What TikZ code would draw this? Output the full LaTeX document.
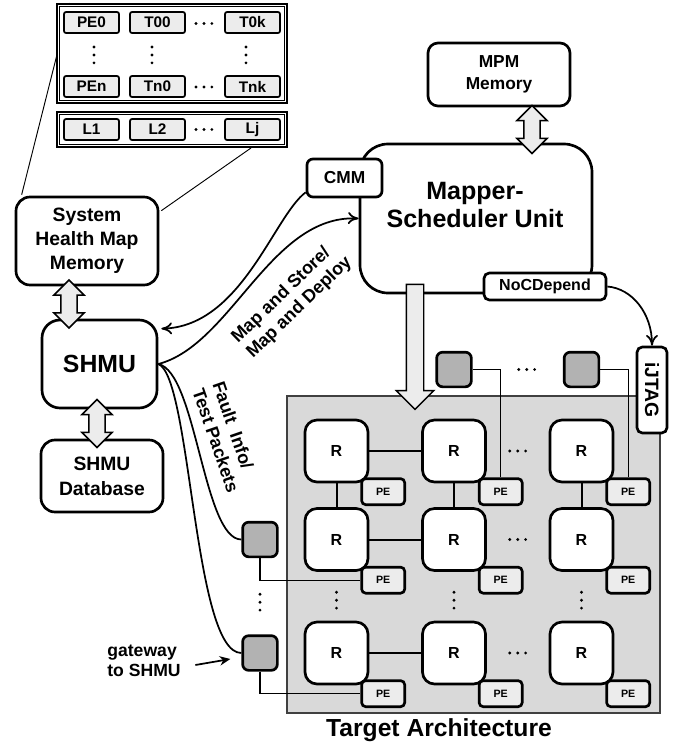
\documentclass[tikz,border=0pt]{standalone}
\usepackage{fontspec}
\setmainfont{Liberation Sans}
\usetikzlibrary{shapes.arrows,arrows.meta,backgrounds,calc}

\begin{document}
\begin{tikzpicture}[x=0.75pt, y=-0.75pt,
  box/.style={draw, line width=2pt, fill=white, align=center, inner sep=0pt},
  tblframe/.style={draw, line width=1.5pt, fill=white, inner sep=0pt},
  tcell/.style={draw, line width=1.3pt, rounded corners=1.5pt, fill=gray!15, minimum width=41.25pt, minimum height=15.75pt, inner sep=0pt, font=\fontsize{11.5}{12}\selectfont\bfseries},
  rbox/.style={box, rounded corners=9pt, minimum width=47.25pt, minimum height=46.5pt, font=\fontsize{12}{14}\selectfont\bfseries},
  pebox/.style={box, rounded corners=3pt, fill=gray!15, minimum width=32.25pt, minimum height=19.5pt, font=\fontsize{8}{9}\selectfont\bfseries},
  gwbox/.style={draw, line width=2pt, rounded corners=4.5pt, fill=gray!60, minimum size=26pt, inner sep=0pt},
  nlink/.style={line width=1.5pt},
  thinwire/.style={line width=1pt},
  flowarrow/.style={line width=1.3pt, -{Computer Modern Rightarrow[length=8pt,width=9pt]}},
  fatarrow/.style={draw, line width=1.1pt, fill=gray!15, inner ysep=0pt, minimum width=0pt},
  hdots/.style={line width=2.4pt, line cap=round, dash pattern=on 0pt off 5.95pt},
  rotlabel/.style={font=\fontsize{13.5}{16}\selectfont\bfseries, align=left, inner sep=0pt},
]
\useasboundingbox (0,0) rectangle (683,743);

% health map tables
\node[tblframe, minimum width=172.5pt, minimum height=74.25pt] (tbl) at (172,53.5) {};
\node[tblframe, minimum width=172.5pt, minimum height=26.25pt] (lst) at (172,129.5) {};
\foreach \f in {tbl,lst}
  \draw[line width=0.6pt] ([shift={(3.5,3.5)}]\f.north west) rectangle ([shift={(-3.5,-3.5)}]\f.south east);
\foreach \n/\t/\x/\y in {pe0/PE0/91.5/22.5, t00/T00/157.5/22.5, t0k/T0k/252.5/22.5,
    pen/PEn/91.5/86.5, tn0/Tn0/157.5/86.5, tnk/Tnk/252.5/86.5,
    l1/L1/91.5/129.5, l2/L2/157.5/129.5, lj/Lj/252.5/129.5}
  \node[tcell] (\n) at (\x,\y) {\t};
\foreach \y in {23.5,87,129.5}
  \draw[hdots] (196,\y) -- (212,\y);
\foreach \x in {94,152,246}
  \draw[hdots] (\x,47) -- (\x,63);

% SHMU side
\node[box, rounded corners=10.5pt, minimum width=106.5pt, minimum height=66pt, font=\fontsize{14.5}{18}\selectfont\bfseries] (shm) at (87,241) {System\\Health Map\\Memory};
\node[box, rounded corners=13.5pt, minimum width=86.25pt, minimum height=66pt, font=\fontsize{18.6}{22}\selectfont\bfseries] (shmu) at (99.5,364) {SHMU};
\node[box, rounded corners=10.5pt, minimum width=91.5pt, minimum height=54pt, font=\fontsize{14.5}{18.75}\selectfont\bfseries] (db) at (102,476) {SHMU\\Database};

\begin{scope}[on background layer]
  \draw[line width=0.7pt] ([shift={(7,-1)}]shm.north west) -- ([shift={(14,0)}]tbl.north west);
  \draw[line width=0.7pt] ([shift={(2,15)}]shm.north east) -- ([shift={(-37,0)}]lst.south east);
\end{scope}

% mapper side
\node[box, rounded corners=21pt, minimum width=174pt, minimum height=111.75pt] (msu) at (476,218.5) {};
\node[font=\fontsize{18.8}{21}\selectfont\bfseries, align=center] (msutxt) at (475,205) {Mapper-\\Scheduler Unit};
\node[box, rounded corners=4.5pt, minimum width=56.25pt, minimum height=28.5pt, font=\fontsize{13}{15}\selectfont\bfseries] (cmm) at (344.5,178) {CMM};
\node[box, rounded corners=7.5pt, minimum width=106.5pt, minimum height=47.25pt, font=\fontsize{13}{16.5}\selectfont\bfseries] (mpm) at (499,74.5) {MPM\\Memory};
\node[box, rounded corners=4pt, minimum width=91.5pt, minimum height=20.25pt, font=\fontsize{12}{14}\selectfont\bfseries] (noc) at (545,286.5) {NoCDepend};

% wide arrows
\foreach \x/\y [count=\k] in {69/304, 97/423.5, 532/129.5}
  \node[fatarrow, double arrow, shape border rotate=90, minimum height=36pt, inner xsep=5.6pt, double arrow head extend=5.25pt] (dbl\k) at (\x,\y) {};

% target architecture
\node[draw=black!75, line width=1.2pt, fill=gray!30, minimum width=279.75pt, minimum height=237.75pt, inner sep=0pt] (tgt) at (473.5,554.5) {};
\node[font=\fontsize{18.5}{20}\selectfont\bfseries] (tgtname) at (439,730) {Target Architecture};
\node[fatarrow, single arrow, shape border rotate=270, minimum height=93.75pt, inner xsep=6pt, single arrow head extend=7.5pt] (down) at (415,342.5) {};

\foreach \j/\y in {1/451,2/539.5,3/653}
  \foreach \i/\x in {1/336.5,2/454,3/581.5}
    \node[rbox] (r\j\i) at (\x,\y) {R};
\foreach \j in {1,2,3}
  \draw[nlink] (r\j1) -- (r\j2);
\foreach \i in {1,2,3}
  \draw[nlink] (r1\i) -- (r2\i);

% gateways
\foreach \i in {2,3} {
  \node[gwbox] (gt\i) at (r1\i |- 0,369.5) {};
}
\foreach \j in {2,3} {
  \node[gwbox] (gl\j) at (r\j1 -| 260,0) {};
}

\foreach \j in {1,2,3}
  \foreach \i in {1,2,3}
    \node[pebox, anchor=north west] (pe\j\i) at ([shift={(-9,-6)}]r\j\i.south east) {PE};
\foreach \i in {2,3}
  \draw[thinwire] (gt\i.east) -| (pe1\i.north);
\foreach \j in {2,3}
  \draw[thinwire] (gl\j.south) |- (pe\j1.west);

\foreach \j in {1,2,3}
  \draw[hdots] ($(r\j2)!0.5!(r\j3)+(-8,0)$) -- +(16,0);
\foreach \i in {1,2,3}
  \draw[hdots] ($(r2\i)!0.5!(r3\i)+(0,-4)$) -- +(0,16);
\draw[hdots] ($(gt2)!0.5!(gt3)+(1,0)$) -- +(16,0);
\draw[hdots] ($(gl2)!0.5!(gl3)+(0,-2)$) -- +(0,16);

\node[box, rounded corners=4pt, rotate=-90, minimum width=64.5pt, minimum height=22.5pt, font=\fontsize{14.5}{16}\selectfont\bfseries] (jtag) at (652,390) {iJTAG};

% connections
\draw[flowarrow] (noc.east) .. controls +(25,2) and +(0,-32) .. (jtag.west);
\draw[flowarrow] ([shift={(0,-6)}]cmm.south west) .. controls +(-32,24) and +(80,-2) .. ([shift={(3,10)}]shmu.north east);
\draw[flowarrow] (shmu.east) .. controls +(73,-19) and +(-88,-4) .. (msu.west);
\draw[line width=1.3pt] (shmu.east) .. controls +(38,8) and +(-38,0) .. (gl2.west);
\draw[line width=1.3pt] (shmu.east) .. controls +(33,13) and +(-48,0) .. (gl3.west);

\node[rotlabel, rotate=44] (maplbl) at (292,300) {Map and Store/\\Map and Deploy};
\node[rotlabel, rotate=-71] (faultlbl) at (226,437) {Fault\ \ Info/\\Test Packets};

\node[font=\fontsize{13.2}{15}\selectfont\bfseries, align=left] (gwlbl) at (144,661) {gateway\\to SHMU};
\draw[line width=1.3pt, -{Stealth[length=8pt,width=7pt]}] ([shift={(10,4)}]gwlbl.east) -- ([shift={(-11,6)}]gl3.west);
\end{tikzpicture}
\end{document}
